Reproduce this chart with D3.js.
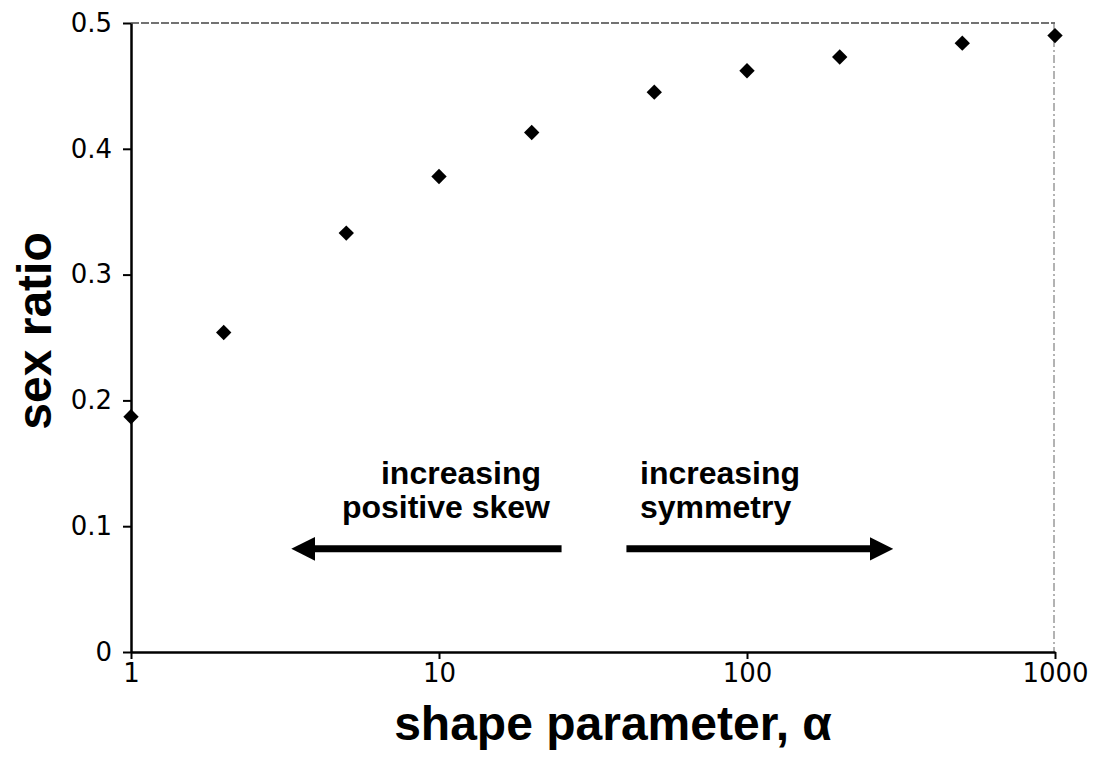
<!DOCTYPE html>
<html>
<head>
<meta charset="utf-8">
<script src="https://cdn.jsdelivr.net/npm/d3@7"></script>
<style>
	body { margin: 0; background: #fff; }
	svg { display: block; }
</style>
</head>
<body>
<div class="chart"></div>
<script>
// data
let alphaValues = [1, 2, 5, 10, 20, 50, 100, 200, 500, 1000];
let sexRatio = [0.187, 0.254, 0.333, 0.378, 0.413, 0.445, 0.462, 0.473, 0.484, 0.490];
let xTicks = [1, 10, 100, 1000];
let yTicks = [0, 0.1, 0.2, 0.3, 0.4, 0.5];

let width = 1097, height = 762;

let svg = d3.select(".chart")
	.append("svg")
	.attr("width", width)
	.attr("height", height);

svg.append("rect")
	.attr("width", width)
	.attr("height", height)
	.attr("fill", "#fff");

let x = d3.scaleLog().domain([1, 1000]).range([131, 1055]);
let y = d3.scaleLinear().domain([0, 0.5]).range([652, 23]);

// frame: top and right are faint dashed lines
svg.append("line")
	.attr("x1", x(1)).attr("x2", x(1000))
	.attr("y1", y(0.5)).attr("y2", y(0.5))
	.attr("stroke", "#444").attr("stroke-width", 1.3)
	.attr("stroke-dasharray", "8,2");
svg.append("line")
	.attr("x1", x(1000) - 1).attr("x2", x(1000) - 1)
	.attr("y1", y(0.5)).attr("y2", y(0))
	.attr("stroke", "#666").attr("stroke-width", 1)
	.attr("stroke-dasharray", "8,3,2,3");

// axes
svg.append("g")
	.attr("transform", "translate(" + x(1) + ",0)")
	.call(d3.axisLeft(y)
		.tickValues(yTicks)
		.tickSize(8)
		.tickSizeOuter(0)
		.tickPadding(11)
		.tickFormat(function(d) { return d === 0 ? "0" : d3.format(".1f")(d); }));

svg.append("g")
	.attr("transform", "translate(0," + y(0) + ")")
	.call(d3.axisBottom(x)
		.tickValues(xTicks)
		.tickSize(7)
		.tickSizeOuter(0)
		.tickPadding(5)
		.tickFormat(d3.format("d")));

svg.selectAll(".domain").attr("stroke", "#000").attr("stroke-width", 2.5);
svg.selectAll(".tick line").attr("stroke", "#000").attr("stroke-width", 2);
svg.selectAll(".tick text")
	.attr("fill", "#000")
	.style("font-family", "DejaVu Sans, sans-serif")
	.style("font-size", "26px");

// points
let diamond = d3.symbol().type(d3.symbolSquare).size(118);
svg.selectAll(".pt")
	.data(alphaValues)
	.enter().append("path")
	.attr("class", "pt")
	.attr("d", diamond)
	.attr("fill", "#000")
	.attr("transform", function(d, i) {
		return "translate(" + x(d) + "," + y(sexRatio[i]) + ") rotate(45)";
	});

// axis titles
svg.append("text")
	.attr("x", 613)
	.attr("y", 740)
	.attr("text-anchor", "middle")
	.style("font-family", "Liberation Sans, Arial, sans-serif")
	.style("font-weight", "bold")
	.style("font-size", "48px")
	.text("shape parameter, α");

svg.append("text")
	.attr("transform", "translate(51,331) rotate(-90)")
	.attr("text-anchor", "middle")
	.style("font-family", "Liberation Sans, Arial, sans-serif")
	.style("font-weight", "bold")
	.style("font-size", "48px")
	.text("sex ratio");

// annotations
let noteFont = function(sel) {
	sel.style("font-family", "Liberation Sans, Arial, sans-serif")
		.style("font-weight", "bold")
		.style("font-size", "32px")
		.attr("fill", "#000");
};
svg.append("text").attr("x", 541).attr("y", 484).attr("text-anchor", "end").text("increasing").call(noteFont);
svg.append("text").attr("x", 550).attr("y", 518).attr("text-anchor", "end").text("positive skew").call(noteFont);
svg.append("text").attr("x", 640).attr("y", 484).text("increasing").call(noteFont);
svg.append("text").attr("x", 640).attr("y", 518).text("symmetry").call(noteFont);

let arrowY = 0.082;
svg.append("defs").append("marker")
	.attr("id", "head")
	.attr("viewBox", "0 0 10 10")
	.attr("refX", 1)
	.attr("refY", 5)
	.attr("markerWidth", 3.4)
	.attr("markerHeight", 3.4)
	.attr("markerUnits", "strokeWidth")
	.attr("orient", "auto")
	.append("path")
	.attr("d", "M0,0 L10,5 L0,10 Z")
	.attr("fill", "#000");

let arrows = [
	{ from: 25, to: 3.3 },
	{ from: 40.6, to: 300 }
];
svg.selectAll(".arrow")
	.data(arrows)
	.enter().append("line")
	.attr("class", "arrow")
	.attr("x1", function(d) { return x(d.from); })
	.attr("x2", function(d) { return x(d.to) + (d.to < d.from ? 22 : -22); })
	.attr("y1", y(arrowY))
	.attr("y2", y(arrowY))
	.attr("stroke", "#000")
	.attr("stroke-width", 7)
	.attr("marker-end", "url(#head)");
</script>
</body>
</html>
